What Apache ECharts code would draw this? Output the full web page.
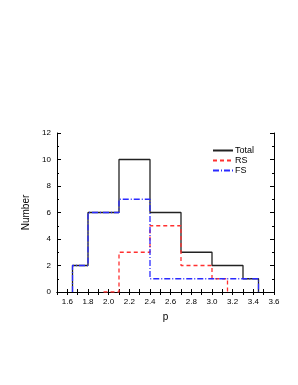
<!DOCTYPE html>
<html><head><meta charset="utf-8">
<script src="https://cdn.jsdelivr.net/npm/echarts@6/dist/echarts.min.js"></script>
<style>html,body{margin:0;padding:0;background:#fff}#c{width:298px;height:385px}</style>
</head><body><div id="c"></div>
<script>
// Histogram data: bin edges and counts
var totalEdges = [1.65, 1.8, 2.1, 2.4, 2.7, 3.0, 3.3, 3.45];
var totalCounts = [2, 6, 10, 6, 3, 2, 1];
var rsEdges = [1.95, 2.1, 2.4, 2.7, 3.0, 3.15];
var rsCounts = [0, 3, 5, 2, 1];
var fsEdges = [1.65, 1.8, 2.1, 2.4, 3.45];
var fsCounts = [2, 6, 7, 1];
var xTicks = [1.6, 1.8, 2.0, 2.2, 2.4, 2.6, 2.8, 3.0, 3.2, 3.4, 3.6];
var yTicks = [0, 2, 4, 6, 8, 10, 12];

function steps(edges, counts) {
  var pts = [[edges[0], 0]];
  for (var i = 0; i < counts.length; i++) {
    pts.push([edges[i], counts[i]]);
    pts.push([edges[i + 1], counts[i]]);
  }
  pts.push([edges[edges.length - 1], 0]);
  return pts;
}

var font = 'Liberation Sans, Arial, sans-serif';
var axCommon = {
  axisLine: {show: true, lineStyle: {color: '#000', width: 1}},
  axisTick: {show: true, inside: true, length: 4, lineStyle: {color: '#000'}},
  minorTick: {show: true, splitNumber: 2, length: 2, lineStyle: {color: '#000'}},
  splitLine: {show: false}
};
var chart = echarts.init(document.getElementById('c'));
chart.setOption({
  animation: false,
  grid: {left: 57, top: 133, width: 217, height: 159},
  legend: {
    left: 207, top: 141, orient: 'vertical', itemGap: 1,
    itemWidth: 20, itemHeight: 10,
    itemStyle: {opacity: 0},
    textStyle: {fontFamily: font, fontSize: 9, color: '#000', padding: [0, 0, 0, -3]},
    data: ['Total', 'RS', 'FS']
  },
  xAxis: [
    Object.assign({type: 'value', min: 1.5, max: 3.6, interval: 0.1, position: 'bottom',
      name: 'p', nameLocation: 'middle', nameGap: 20,
      nameTextStyle: {fontFamily: font, fontSize: 10, color: '#000'},
      axisLabel: {fontFamily: font, fontSize: 8, color: '#000', margin: 6,
        formatter: function (v) {
          var r = Math.round(v * 10) / 10;
          for (var i = 0; i < xTicks.length; i++) if (Math.abs(xTicks[i] - r) < 1e-6) return r.toFixed(1);
          return '';
        }}
    }, axCommon, {axisTick: {show: true, inside: true, length: 3, lineStyle: {color: '#000'},
        interval: 0}, minorTick: {show: false}}),
    Object.assign({type: 'value', min: 1.5, max: 3.6, interval: 0.1, position: 'top',
      axisLabel: {show: false}}, axCommon, {axisTick: {show: true, inside: true, length: 3, lineStyle: {color: '#000'}}, minorTick: {show: false}})
  ],
  yAxis: [
    Object.assign({type: 'value', min: 0, max: 12, interval: 2, position: 'left',
      name: 'Number', nameLocation: 'middle', nameGap: 24,
      nameTextStyle: {fontFamily: font, fontSize: 10, color: '#000'},
      axisLabel: {fontFamily: font, fontSize: 8, color: '#000', margin: 6,
        formatter: function (v) { return yTicks.indexOf(v) >= 0 ? String(v) : ''; }}
    }, axCommon),
    Object.assign({type: 'value', min: 0, max: 12, interval: 2, position: 'right',
      axisLabel: {show: false}}, axCommon)
  ],
  series: [
    {name: 'Total', type: 'line', symbol: 'none', data: steps(totalEdges, totalCounts),
      lineStyle: {color: '#222', width: 1.3}, itemStyle: {color: '#222'}, z: 2},
    {name: 'RS', type: 'line', symbol: 'none', data: steps(rsEdges, rsCounts),
      lineStyle: {color: '#ff3030', width: 1.3, type: [4, 3]}, itemStyle: {color: '#ff3030'}, z: 3},
    {name: 'FS', type: 'line', symbol: 'none', data: steps(fsEdges, fsCounts),
      lineStyle: {color: '#2a2aff', width: 1.3, type: [6, 2, 1, 2]}, itemStyle: {color: '#2a2aff'}, z: 4}
  ]
});
</script></body></html>
